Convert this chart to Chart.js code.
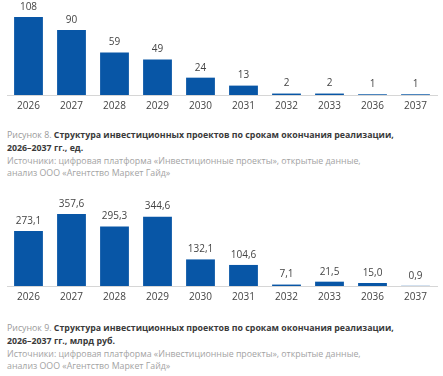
<!DOCTYPE html>
<html lang="ru">
<head>
<meta charset="utf-8">
<script src="https://cdn.jsdelivr.net/npm/chart.js@4"></script>
<style>
  html, body { margin: 0; padding: 0; background: #fff; }
  body { width: 443px; height: 376px; position: relative; overflow: hidden; font-family: "Open Sans", sans-serif; }
  .chart-box { position: absolute; left: 0; width: 443px; height: 112px; }
  .caption { position: absolute; left: 7px; width: 436px; font-size: 8.8px; line-height: 13px; white-space: nowrap; }
  .caption__num { color: #9a9a9a; }
  .caption__title { color: #3a3a3a; font-weight: 700; }
  .caption__src { color: #a3a3a3; line-height: 12px; }
</style>
</head>
<body>

<div class="chart-box" style="top:0"><canvas id="countChart"></canvas></div>
<div class="caption" style="top:129px">
  <span class="caption__num">Рисунок 8.</span>
  <span class="caption__title">Структура инвестиционных проектов по срокам окончания реализации,<br>2026–2037 гг., ед.</span>
  <div class="caption__src">Источники: цифровая платформа «Инвестиционные проекты», открытые данные,<br>анализ ООО «Агентство Маркет Гайд»</div>
</div>

<div class="chart-box" style="top:191px"><canvas id="volumeChart"></canvas></div>
<div class="caption" style="top:322px">
  <span class="caption__num">Рисунок 9.</span>
  <span class="caption__title">Структура инвестиционных проектов по срокам окончания реализации,<br>2026–2037 гг., млрд руб.</span>
  <div class="caption__src">Источники: цифровая платформа «Инвестиционные проекты», открытые данные,<br>анализ ООО «Агентство Маркет Гайд»</div>
</div>

<script>
// ─── data ───
const years = ['2026', '2027', '2028', '2029', '2030', '2031', '2032', '2033', '2036', '2037'];
const projectCounts = [108, 90, 59, 49, 24, 13, 2, 2, 1, 1];
const projectVolumes = [273.1, 357.6, 295.3, 344.6, 132.1, 104.6, 7.1, 21.5, 15.0, 0.9];

const BAR_BLUE = '#0856a6';
const LABEL_GREY = '#444444';
const AXIS_GREY = '#d6d6d6';

// draws the value above each bar (no datalabels plugin offline)
const valueLabels = {
  id: 'valueLabels',
  afterDatasetsDraw(chart, args, opts) {
    const ctx = chart.ctx;
    const meta = chart.getDatasetMeta(0);
    const data = chart.data.datasets[0].data;
    ctx.save();
    ctx.font = '10px "Open Sans", sans-serif';
    ctx.fillStyle = LABEL_GREY;
    ctx.textAlign = 'center';
    ctx.textBaseline = 'bottom';
    meta.data.forEach((bar, i) => {
      ctx.fillText(opts.format(data[i]), bar.x, bar.y - 5);
    });
    ctx.restore();
  }
};

function makeBarChart(id, values, yMax, format) {
  new Chart(document.getElementById(id), {
    type: 'bar',
    data: {
      labels: years,
      datasets: [{ data: values, backgroundColor: BAR_BLUE, categoryPercentage: 1, barPercentage: 0.67 }]
    },
    options: {
      responsive: true, maintainAspectRatio: false, animation: false,
      layout: { padding: { left: 7, right: 6, top: 0, bottom: 0 } },
      plugins: { legend: { display: false }, tooltip: { enabled: false }, valueLabels: { format } },
      scales: {
        y: { display: false, min: 0, max: yMax },
        x: {
          grid: { display: false, drawTicks: false },
          border: { display: true, color: AXIS_GREY, width: 1 },
          ticks: { color: LABEL_GREY, padding: 5, font: { family: 'Open Sans', size: 10 }, maxRotation: 0, autoSkip: false },
          afterFit: (scale) => { scale.height = 17; }
        }
      }
    },
    plugins: [valueLabels]
  });
}

makeBarChart('countChart', projectCounts, 131.5, v => String(v));
makeBarChart('volumeChart', projectVolumes, 472, v => v.toFixed(1).replace('.', ','));
</script>
</body>
</html>
